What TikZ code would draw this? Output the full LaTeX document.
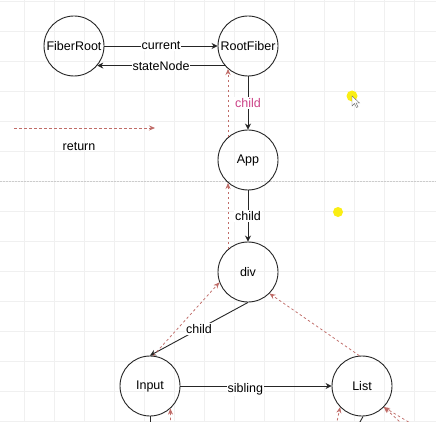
\documentclass[tikz,border=0pt]{standalone}
\usepackage{fontspec}
\setmainfont{Liberation Sans}
\usetikzlibrary{arrows.meta}
\definecolor{retc}{RGB}{192,108,104}
\definecolor{pinkc}{RGB}{204,68,136}
\definecolor{dotc}{RGB}{250,238,20}
\begin{document}
\begin{tikzpicture}[x=1pt,y=-1pt,
  fiber/.style={circle,draw=black!85,line width=0.9pt,minimum size=60pt,inner sep=0pt,font=\fontsize{12.5}{14}\selectfont},
  link/.style={draw=black!85,line width=0.9pt,-{Stealth[length=6pt,width=6pt]}},
  plain/.style={draw=black!85,line width=0.9pt},
  retlink/.style={draw=retc,dash pattern=on 2.5pt off 2.5pt,line width=0.75pt,-{Stealth[length=6pt,width=5pt]}},
  lbl/.style={fill=white,inner sep=1pt,font=\fontsize{12.5}{14}\selectfont},
  gridline/.style={draw=black!6,line width=0.5pt},
  ydot/.style={fill=dotc}]
\useasboundingbox (0,0) rectangle (436,422);
\clip (0,0) rectangle (436,422);
\fill[white] (0,0) rectangle (436,422);
% background grid
\foreach \x in {24,54,...,414} \draw[gridline] (\x,0) -- (\x,422);
\foreach \y in {1,31,...,421} \draw[gridline] (0,\y) -- (436,\y);
% page break line
\draw[black!20,line width=0.6pt,dash pattern=on 1.5pt off 1.5pt] (0,181) -- (436,181);

% nodes
\node[fiber] (fr)  at (74,46)   {FiberRoot};
\node[fiber] (rf)  at (248,46)  {RootFiber};
\node[fiber] (app) at (248,160) {App};
\node[fiber] (div) at (248,272) {div};
\node[fiber] (inp) at (150,386) {Input};
\node[fiber] (lst) at (362,386) {List};

% solid links
\draw[link] (fr.east) -- node[lbl]{current} (rf.west);
\draw[link] (rf.220) -- node[lbl]{stateNode} (fr.-40);
\draw[link] (rf) -- node[lbl,text=pinkc]{child} (app);
\draw[link] (app) -- node[lbl]{child} (div);
\draw[link] (div.south) -- node[lbl]{child} (inp.north);
\draw[link] (inp.east) -- node[lbl,pos=0.43,yshift=-3pt]{sibling} (lst.west);

% return links
\draw[retlink] (app.131) -- (rf.229);
\draw[retlink] (div.131) -- (app.229);
\draw[retlink] (inp.84) -- (div.200);
\draw[retlink] (lst.95) -- (div.-45);

% legend
\coordinate (l1) at (14,128);
\coordinate (l2) at (155,128);
\draw[retlink] (l1) -- (l2);
\node[font=\fontsize{12.5}{14}\selectfont] (legtext) at (79,147) {return};

% edges running off the bottom
\coordinate (inpdown) at (150,440);
\draw[plain] (inp.south) -- (inpdown);
\coordinate (inpret) at (171,440);
\draw[retlink] (inpret) -- (inp.-48);
\coordinate (lstret) at (333,440);
\draw[retlink] (lstret) -- (lst.224);
\coordinate (lstdown) at (350,440);
\draw[plain] (lst.-88) -- (lstdown);
\coordinate (lstretA) at (414,435);
\coordinate (lstretB) at (430,435);
\draw[retlink] (lstretA) -- (lst.-44);
\draw[retlink] (lstretB) -- (lst.-44);

% cursor highlights
\fill[ydot] (352,96) circle (5.5);
\fill[ydot] (338,212) circle (5);
\filldraw[fill=white,draw=black!60,line width=0.4pt] (352,96) -- (352,106) -- (354.5,103.5) -- (356.5,107.5) -- (358,106.8) -- (356,103) -- (359.5,103) -- cycle;
\end{tikzpicture}
\end{document}
